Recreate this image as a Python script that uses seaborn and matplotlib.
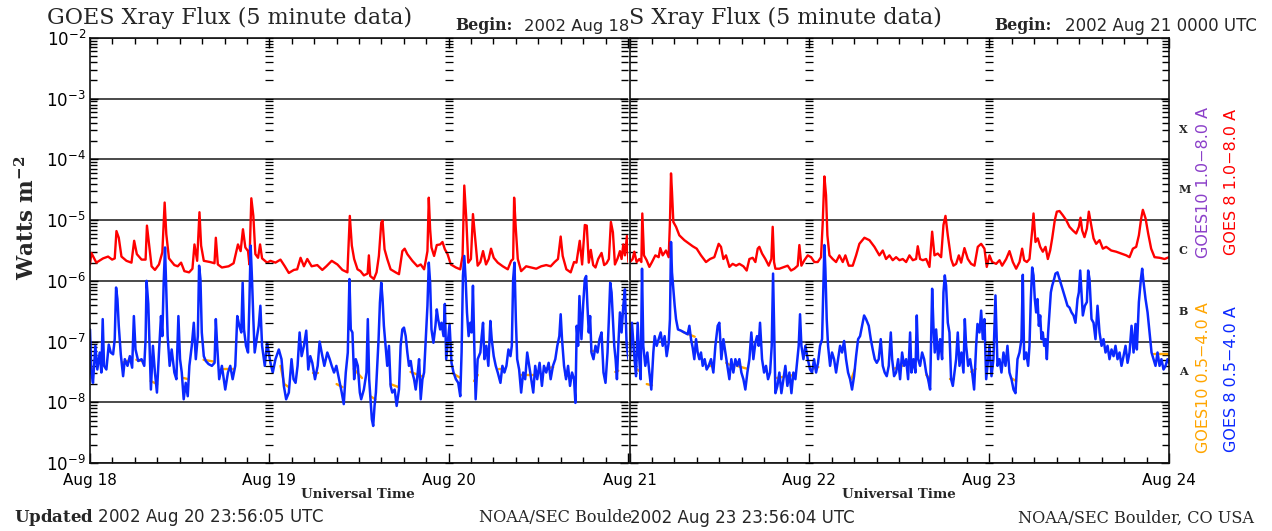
import numpy as np
import pandas as pd
import matplotlib
matplotlib.use("Agg")
import matplotlib.pyplot as plt
import seaborn as sns
from matplotlib.ticker import FixedLocator, NullFormatter, FuncFormatter, MultipleLocator

# ------------------------------------------------------------------ data
# time axis: hours since 2002 Aug 18 00:00 UTC ; flux given as log10(W m^-2)
day_ticks_hours = [0, 24, 48, 72, 96, 120, 144]
day_labels = ["Aug 18", "Aug 19", "Aug 20", "Aug 21", "Aug 22", "Aug 23", "Aug 24"]
decade_exponents = [-9, -8, -7, -6, -5, -4, -3, -2]
class_letters = ["A", "B", "C", "M", "X"]
class_log10 = [-7.5, -6.5, -5.5, -4.5, -3.5]

# GOES 8, 1.0-8.0 A  (hours, log10 flux)
goes8_long = [
    (0.0,-5.73),(0.18,-5.54),(0.85,-5.70),(1.75,-5.63),(2.42,-5.60),(2.96,-5.65),(3.31,-5.63),(3.54,-5.18),
    (3.85,-5.29),(4.21,-5.60),(4.88,-5.67),(5.55,-5.70),(5.91,-5.34),(6.27,-5.56),(6.90,-5.65),(7.44,-5.65),
    (7.62,-5.09),(7.88,-5.37),(8.24,-5.76),(8.69,-5.82),(9.23,-5.73),(9.68,-5.53),(9.99,-4.71),(10.21,-5.23),
    (10.57,-5.63),(11.29,-5.74),(11.74,-5.76),(12.19,-5.70),(12.63,-5.84),(13.26,-5.86),(13.71,-5.80),(13.98,-5.40),
    (14.34,-5.67),(14.65,-4.87),(14.87,-5.42),(15.23,-5.67),(16.08,-5.69),(16.66,-5.71),(16.84,-5.29),(17.11,-5.73),
    (17.65,-5.78),(18.55,-5.76),(19.22,-5.71),(19.80,-5.40),(20.16,-5.51),(20.47,-5.15),(20.79,-5.45),(21.15,-5.51),
    (21.33,-5.73),(21.59,-4.64),(21.86,-4.93),(22.13,-5.56),(22.49,-5.62),(22.76,-5.40),(23.03,-5.63),(23.70,-5.70),
    (24.15,-5.67),(24.82,-5.70),(25.49,-5.65),(26.07,-5.76),(26.61,-5.87),(27.28,-5.82),(27.73,-5.81),(28.18,-5.62),
    (28.63,-5.76),(29.08,-5.64),(29.66,-5.76),(30.42,-5.74),(31.09,-5.82),(31.63,-5.76),(32.35,-5.67),(33.11,-5.73),
    (33.78,-5.82),(34.45,-5.86),(34.77,-4.93),(35.04,-5.42),(35.35,-5.64),(35.80,-5.81),(36.20,-5.84),(36.65,-5.91),
    (37.15,-5.88),(37.32,-5.58),(37.50,-5.92),(37.99,-5.97),(38.35,-5.86),(38.66,-5.59),(38.98,-5.04),(39.15,-5.01),
    (39.42,-5.48),(39.78,-5.64),(40.23,-5.81),(40.90,-5.86),(41.35,-5.89),(41.80,-5.51),(42.11,-5.47),(42.47,-5.56),
    (43.14,-5.67),(43.81,-5.76),(44.26,-5.73),(44.71,-5.81),(44.93,-5.67),(45.16,-5.51),(45.34,-4.63),(45.52,-5.15),
    (45.70,-5.45),(46.05,-5.59),(46.41,-5.41),(46.86,-5.40),(47.17,-5.36),(47.49,-5.48),(47.85,-5.56),(48.29,-5.73),
    (48.97,-5.78),(49.55,-5.81),(49.86,-5.59),(50.09,-4.43),(50.36,-4.98),(50.62,-5.70),(50.98,-5.64),(51.25,-4.90),
    (51.52,-5.26),(51.88,-5.75),(52.24,-5.69),(52.60,-5.51),(53.00,-5.73),(53.36,-5.64),(53.67,-5.47),(54.03,-5.62),
    (54.57,-5.70),(55.24,-5.76),(55.91,-5.81),(56.36,-5.67),(56.63,-5.64),(56.76,-4.63),(56.99,-5.15),(57.25,-5.64),
    (57.70,-5.84),(58.37,-5.76),(59.05,-5.78),(59.72,-5.80),(60.39,-5.76),(61.06,-5.74),(61.65,-5.76),(62.18,-5.69),
    (62.63,-5.64),(62.99,-5.27),(63.26,-5.59),(63.75,-5.81),(64.33,-5.86),(64.78,-5.69),(65.10,-5.70),(65.54,-5.34),
    (65.86,-5.73),(66.22,-5.08),(66.48,-5.09),(66.75,-5.70),(67.02,-5.49),(67.34,-5.74),(67.65,-5.78),(68.01,-5.64),
    (68.46,-5.54),(68.81,-5.74),(69.13,-5.71),(69.44,-5.64),(69.71,-5.03),(69.98,-5.20),(70.25,-5.73),(70.61,-5.63),
    (70.92,-5.51),(71.14,-5.64),(71.37,-5.40),(71.59,-5.58),(71.86,-5.26),(72.06,-5.69),(72.42,-5.64),(72.64,-5.52),
    (72.95,-5.69),(73.31,-5.64),(73.58,-5.69),(73.71,-4.89),(73.93,-5.58),(74.29,-5.66),(74.65,-5.77),(75.00,-5.69),
    (75.45,-5.58),(75.89,-5.61),(76.11,-5.46),(76.43,-5.58),(76.87,-5.50),(77.23,-5.61),(77.40,-5.03),(77.54,-4.23),
    (77.67,-4.53),(77.85,-5.03),(78.21,-5.11),(78.65,-5.25),(79.32,-5.33),(79.99,-5.39),(80.43,-5.43),(80.97,-5.47),
    (81.54,-5.58),(82.21,-5.69),(82.75,-5.64),(83.32,-5.61),(83.90,-5.39),(84.21,-5.44),(84.53,-5.64),(84.88,-5.58),
    (85.33,-5.77),(85.77,-5.72),(86.22,-5.75),(86.66,-5.72),(87.20,-5.76),(87.64,-5.83),(88.00,-5.64),(88.44,-5.62),
    (88.80,-5.69),(89.11,-5.47),(89.33,-5.44),(89.69,-5.55),(90.13,-5.64),(90.58,-5.75),(90.93,-5.64),(91.11,-5.11),
    (91.29,-5.69),(91.47,-5.80),(92.00,-5.80),(92.67,-5.77),(93.11,-5.75),(93.56,-5.83),(94.00,-5.80),(94.45,-5.75),
    (94.67,-5.41),(94.94,-5.75),(95.34,-5.66),(95.79,-5.58),(96.23,-5.61),(96.67,-5.69),(97.12,-5.69),(97.56,-5.61),
    (97.79,-5.03),(98.01,-4.28),(98.23,-4.59),(98.41,-5.25),(98.68,-5.58),(99.12,-5.64),(99.57,-5.69),(100.01,-5.58),
    (100.46,-5.69),(100.81,-5.58),(101.26,-5.75),(101.79,-5.75),(102.24,-5.58),(102.68,-5.39),(103.35,-5.29),(104.02,-5.33),
    (104.69,-5.44),(105.35,-5.58),(105.80,-5.50),(106.24,-5.64),(106.69,-5.58),(107.13,-5.66),(107.58,-5.61),(108.03,-5.66),
    (108.47,-5.64),(108.92,-5.69),(109.36,-5.58),(109.81,-5.66),(110.25,-5.64),(110.47,-5.43),(110.78,-5.64),(111.14,-5.66),
    (111.59,-5.64),(112.03,-5.77),(112.39,-5.19),(112.70,-5.58),(113.14,-5.55),(113.59,-5.61),(113.90,-5.08),(114.17,-4.93),
    (114.48,-5.25),(114.92,-5.64),(115.23,-5.75),(115.59,-5.72),(115.95,-5.58),(116.26,-5.70),(116.70,-5.46),(117.15,-5.64),
    (117.59,-5.72),(118.04,-5.75),(118.48,-5.44),(118.93,-5.39),(119.37,-5.47),(119.68,-5.77),(120.04,-5.58),(120.40,-5.69),
    (120.93,-5.72),(121.38,-5.66),(121.73,-5.75),(122.27,-5.64),(122.71,-5.51),(123.16,-5.69),(123.60,-5.80),(124.05,-5.69),
    (124.40,-5.47),(124.67,-5.66),(125.03,-5.69),(125.38,-5.64),(125.74,-5.17),(125.92,-4.89),(126.18,-5.36),(126.49,-5.30),
    (126.81,-5.44),(127.16,-5.52),(127.52,-5.44),(127.83,-5.64),(128.14,-5.50),(128.41,-5.30),(128.76,-5.00),(129.03,-4.86),
    (129.39,-4.85),(129.83,-4.92),(130.28,-5.00),(130.72,-5.11),(131.17,-5.17),(131.61,-5.22),(131.97,-5.11),(132.19,-4.96),
    (132.41,-5.17),(132.72,-5.28),(133.04,-5.14),(133.30,-4.86),(133.61,-5.08),(133.93,-5.30),(134.28,-5.39),(134.73,-5.33),
    (135.17,-5.47),(135.62,-5.44),(136.29,-5.50),(136.95,-5.52),(137.62,-5.55),(138.29,-5.58),(138.73,-5.61),(139.18,-5.47),
    (139.62,-5.44),(139.98,-5.25),(140.29,-4.97),(140.51,-4.83),(140.87,-4.97),(141.22,-5.22),(141.62,-5.47),(142.07,-5.61),
    (142.74,-5.62),(143.41,-5.64),(144.0,-5.61),
]

# GOES 8, 0.5-4.0 A  (hours, log10 flux)
goes8_short = [
    (0.0,-6.80),(0.18,-7.51),(0.40,-7.68),(0.72,-7.07),(0.98,-7.46),(1.30,-7.18),(1.52,-7.51),(1.70,-6.63),
    (1.88,-7.40),(2.19,-7.46),(2.51,-7.05),(2.78,-7.18),(3.09,-7.21),(3.31,-6.96),(3.49,-6.11),(3.67,-6.30),
    (3.85,-6.74),(4.12,-7.21),(4.43,-7.57),(4.66,-7.29),(5.02,-7.40),(5.33,-7.24),(5.64,-7.43),(5.87,-6.58),
    (6.09,-7.13),(6.45,-7.32),(6.90,-7.29),(7.26,-7.40),(7.44,-6.96),(7.57,-6.00),(7.80,-6.38),(8.02,-7.29),
    (8.15,-7.79),(8.42,-7.07),(8.69,-7.51),(8.96,-7.84),(9.23,-7.18),(9.50,-6.58),(9.68,-6.91),(9.86,-6.03),
    (10.04,-5.45),(10.21,-6.14),(10.39,-6.91),(10.66,-7.40),(10.93,-7.13),(11.29,-7.51),(11.56,-7.62),(11.83,-6.58),
    (12.05,-7.29),(12.28,-7.51),(12.54,-7.95),(12.81,-7.68),(13.08,-7.90),(13.30,-7.40),(13.62,-7.07),(13.89,-6.69),
    (14.16,-7.29),(14.43,-6.91),(14.60,-5.75),(14.78,-5.97),(14.96,-6.85),(15.23,-7.24),(15.50,-7.32),(15.86,-7.37),
    (16.31,-7.40),(16.67,-7.35),(16.84,-6.63),(17.02,-7.07),(17.29,-7.62),(17.65,-7.40),(18.10,-7.79),(18.46,-7.51),
    (18.77,-7.40),(19.09,-7.62),(19.44,-7.40),(19.71,-6.58),(19.98,-6.74),(20.25,-6.85),(20.43,-6.03),(20.61,-6.80),
    (20.88,-7.07),(21.15,-7.18),(21.33,-6.36),(21.50,-5.42),(21.68,-5.97),(21.86,-6.63),(22.04,-7.18),(22.36,-6.91),
    (22.58,-6.74),(22.80,-6.41),(23.03,-7.07),(23.39,-7.40),(23.70,-7.02),(24.15,-7.35),(24.46,-7.51),(24.82,-7.29),
    (25.27,-7.13),(25.63,-7.29),(25.94,-7.73),(26.25,-7.95),(26.61,-7.84),(26.97,-7.29),(27.24,-7.62),(27.51,-7.68),
    (27.78,-7.40),(28.05,-6.85),(28.32,-7.24),(28.63,-7.07),(28.94,-6.82),(29.21,-7.46),(29.48,-7.24),(29.75,-7.35),
    (30.11,-7.62),(30.47,-7.40),(30.73,-7.00),(31.00,-7.18),(31.36,-7.40),(31.76,-7.18),(32.08,-7.29),(32.35,-7.40),
    (32.66,-7.51),(32.97,-7.40),(33.33,-7.62),(33.69,-7.84),(33.96,-8.03),(34.23,-7.51),(34.50,-7.18),(34.72,-5.97),
    (34.90,-6.80),(35.12,-6.85),(35.35,-7.62),(35.57,-7.29),(35.84,-7.40),(36.11,-7.84),(36.29,-7.95),(36.65,-7.79),
    (37.00,-7.51),(37.18,-6.63),(37.36,-7.62),(37.54,-7.95),(37.72,-8.28),(37.90,-8.39),(38.08,-8.06),(38.26,-7.84),
    (38.44,-7.40),(38.62,-6.96),(38.80,-6.36),(38.98,-6.03),(39.15,-6.30),(39.33,-6.74),(39.56,-7.07),(39.78,-7.40),
    (40.01,-7.07),(40.23,-7.73),(40.45,-7.84),(40.77,-7.79),(41.04,-8.06),(41.35,-7.79),(41.57,-7.07),(41.80,-6.80),
    (42.02,-6.77),(42.25,-6.91),(42.47,-7.18),(42.69,-7.40),(42.92,-7.32),(43.14,-7.51),(43.37,-7.62),(43.59,-7.79),
    (43.81,-7.57),(44.04,-7.29),(44.26,-7.95),(44.49,-7.62),(44.71,-7.51),(44.93,-6.96),(45.16,-6.41),(45.34,-5.70),
    (45.52,-6.03),(45.70,-6.80),(45.96,-7.02),(46.23,-6.74),(46.41,-6.47),(46.59,-6.63),(46.86,-6.80),(47.04,-6.69),
    (47.31,-6.91),(47.49,-6.38),(47.67,-7.29),(48.12,-6.71),(48.38,-7.35),(48.65,-7.51),(48.97,-7.62),(49.28,-7.68),
    (49.55,-7.90),(49.73,-7.18),(49.91,-5.92),(50.09,-5.59),(50.27,-5.97),(50.45,-6.52),(50.67,-6.91),(50.89,-6.69),
    (51.07,-6.85),(51.25,-6.08),(51.43,-7.07),(51.61,-7.95),(51.88,-7.29),(52.24,-7.18),(52.42,-6.91),(52.60,-6.69),
    (52.78,-7.29),(53.04,-7.07),(53.31,-7.40),(53.58,-6.66),(53.76,-6.96),(54.03,-7.24),(54.30,-7.40),(54.57,-7.51),
    (54.93,-7.68),(55.19,-7.40),(55.46,-7.51),(55.73,-7.40),(56.00,-7.13),(56.27,-7.24),(56.45,-7.07),(56.63,-5.97),
    (56.81,-5.70),(56.99,-6.63),(57.17,-7.29),(57.43,-7.46),(57.70,-7.84),(57.97,-7.51),(58.24,-7.62),(58.51,-7.18),
    (58.78,-7.40),(59.05,-7.62),(59.32,-7.84),(59.58,-7.40),(59.85,-7.62),(60.17,-7.35),(60.48,-7.73),(60.75,-7.40),
    (61.06,-7.51),(61.38,-7.35),(61.65,-7.62),(61.96,-7.40),(62.27,-7.29),(62.54,-7.07),(62.81,-6.91),(62.99,-6.55),
    (63.17,-6.96),(63.44,-7.40),(63.71,-7.62),(63.98,-7.40),(64.24,-7.73),(64.51,-7.51),(64.78,-7.62),(64.96,-8.01),
    (65.14,-6.74),(65.32,-7.07),(65.50,-6.25),(65.77,-6.96),(65.99,-6.41),(66.22,-5.97),(66.40,-5.92),(66.57,-6.41),
    (66.75,-6.85),(66.93,-6.58),(67.11,-7.18),(67.38,-7.29),(67.65,-7.07),(67.92,-7.18),(68.19,-6.96),(68.46,-6.85),
    (68.72,-7.51),(68.99,-7.68),(69.26,-7.18),(69.44,-6.63),(69.62,-6.03),(69.80,-6.19),(69.98,-6.63),(70.16,-7.07),
    (70.34,-7.29),(70.52,-7.62),(70.70,-7.07),(70.92,-6.52),(71.14,-6.85),(71.37,-6.41),(71.59,-6.14),(71.82,-7.07),
    (72.06,-7.29),(72.33,-6.69),(72.60,-7.18),(72.87,-7.57),(73.09,-6.69),(73.31,-7.29),(73.49,-7.62),(73.67,-5.80),
    (73.84,-7.07),(74.11,-7.40),(74.38,-7.18),(74.65,-7.51),(74.91,-7.79),(75.18,-7.18),(75.36,-6.91),(75.63,-7.07),
    (75.89,-6.96),(76.16,-6.85),(76.43,-7.07),(76.69,-6.91),(76.96,-7.24),(77.23,-7.02),(77.40,-6.63),(77.54,-5.36),
    (77.67,-5.86),(77.85,-6.13),(78.03,-6.41),(78.21,-6.63),(78.47,-6.80),(78.87,-6.82),(79.32,-6.85),(79.76,-6.88),
    (79.99,-6.74),(80.21,-6.96),(80.43,-7.10),(80.65,-7.29),(80.88,-6.96),(81.10,-7.18),(81.32,-7.29),(81.54,-7.18),
    (81.77,-7.40),(82.03,-7.29),(82.30,-7.46),(82.57,-7.40),(82.88,-7.29),(83.19,-7.51),(83.46,-7.07),(83.77,-6.74),
    (83.99,-6.69),(84.26,-7.29),(84.53,-6.96),(84.79,-7.18),(85.06,-7.40),(85.33,-7.62),(85.59,-7.29),(85.86,-7.51),
    (86.13,-7.29),(86.39,-7.40),(86.66,-7.29),(86.93,-7.51),(87.20,-7.62),(87.46,-7.79),(87.73,-7.51),(88.00,-7.29),
    (88.26,-6.85),(88.53,-7.29),(88.80,-7.02),(89.02,-6.91),(89.24,-7.07),(89.42,-6.69),(89.69,-7.29),(89.96,-7.51),
    (90.22,-7.40),(90.49,-7.62),(90.76,-7.51),(90.98,-7.07),(91.16,-5.88),(91.29,-6.74),(91.47,-7.85),(91.74,-7.73),
    (92.00,-7.51),(92.27,-7.85),(92.54,-7.62),(92.80,-7.40),(93.07,-7.73),(93.34,-7.51),(93.61,-7.85),(93.87,-7.51),
    (94.14,-7.62),(94.41,-7.29),(94.58,-7.07),(94.76,-6.55),(94.94,-7.07),(95.21,-7.29),(95.47,-7.07),(95.79,-7.29),
    (96.10,-7.46),(96.36,-7.51),(96.63,-7.29),(96.90,-7.51),(97.16,-7.35),(97.43,-7.07),(97.70,-6.96),(97.88,-6.02),
    (98.01,-5.41),(98.14,-5.80),(98.32,-6.63),(98.50,-7.07),(98.77,-7.40),(99.03,-7.18),(99.30,-7.29),(99.57,-7.51),
    (99.83,-7.29),(100.10,-7.07),(100.37,-7.18),(100.64,-6.99),(100.90,-7.29),(101.17,-7.51),(101.44,-7.62),(101.70,-7.79),
    (101.97,-7.57),(102.24,-7.24),(102.51,-6.96),(102.77,-6.91),(103.04,-6.74),(103.31,-6.57),(103.57,-6.63),(103.93,-6.74),
    (104.20,-6.96),(104.46,-7.13),(104.73,-7.29),(105.00,-7.35),(105.26,-7.29),(105.53,-6.96),(105.80,-7.40),(106.06,-7.51),
    (106.33,-7.57),(106.60,-7.40),(106.87,-6.85),(107.05,-7.29),(107.31,-7.57),(107.58,-7.51),(107.85,-7.29),(108.11,-7.62),
    (108.38,-7.18),(108.65,-7.40),(108.92,-7.29),(109.18,-7.62),(109.45,-6.85),(109.63,-7.51),(109.89,-7.29),(110.16,-7.51),
    (110.34,-6.57),(110.52,-7.29),(110.78,-7.40),(111.05,-7.18),(111.32,-7.29),(111.59,-7.51),(111.85,-7.62),(112.12,-7.79),
    (112.39,-6.13),(112.56,-6.74),(112.74,-7.18),(112.92,-6.80),(113.19,-7.29),(113.45,-6.96),(113.72,-7.29),(113.90,-6.19),
    (114.08,-5.91),(114.25,-6.08),(114.48,-6.69),(114.70,-6.85),(114.92,-7.62),(115.15,-7.73),(115.37,-7.51),(115.59,-7.29),
    (115.81,-6.85),(116.04,-7.40),(116.30,-7.18),(116.57,-7.51),(116.75,-6.63),(116.93,-7.07),(117.19,-7.40),(117.46,-7.29),
    (117.73,-7.51),(117.99,-7.79),(118.26,-7.07),(118.44,-6.71),(118.71,-6.85),(118.93,-6.49),(119.15,-6.96),(119.37,-6.63),
    (119.60,-7.62),(120.04,-7.07),(120.31,-7.57),(120.57,-7.29),(120.84,-6.24),(121.11,-7.40),(121.38,-7.29),(121.64,-7.51),
    (121.91,-7.18),(122.18,-7.40),(122.44,-7.07),(122.71,-7.51),(122.98,-7.62),(123.25,-7.79),(123.51,-7.85),(123.78,-7.29),
    (124.05,-7.18),(124.31,-6.96),(124.49,-5.90),(124.67,-7.29),(124.94,-7.18),(125.20,-7.40),(125.38,-7.07),(125.56,-6.30),
    (125.74,-5.78),(125.92,-5.91),(126.09,-6.30),(126.27,-6.52),(126.45,-6.30),(126.63,-6.74),(126.81,-6.57),(126.98,-6.96),
    (127.16,-6.85),(127.34,-7.07),(127.52,-6.96),(127.70,-7.29),(127.87,-6.85),(128.05,-6.52),(128.23,-6.19),(128.41,-6.08),
    (128.67,-5.97),(128.85,-5.88),(129.12,-5.86),(129.39,-5.97),(129.65,-6.08),(129.92,-6.19),(130.19,-6.30),(130.45,-6.41),
    (130.72,-6.44),(130.99,-6.52),(131.26,-6.57),(131.52,-6.69),(131.79,-6.30),(131.97,-6.19),(132.15,-5.83),(132.32,-6.19),
    (132.50,-6.57),(132.77,-6.41),(133.04,-6.35),(133.21,-5.83),(133.39,-5.97),(133.66,-6.63),(133.93,-6.69),(134.19,-6.96),
    (134.46,-6.41),(134.73,-6.85),(135.00,-7.07),(135.26,-6.96),(135.53,-7.18),(135.80,-7.07),(136.06,-7.29),(136.33,-7.13),
    (136.60,-7.24),(136.86,-7.07),(137.13,-7.29),(137.40,-7.18),(137.66,-7.40),(137.93,-7.24),(138.20,-7.07),(138.47,-7.35),
    (138.73,-7.18),(139.00,-6.74),(139.27,-7.18),(139.53,-6.71),(139.71,-7.13),(139.98,-6.35),(140.25,-5.97),(140.42,-5.80),
    (140.60,-6.02),(140.87,-6.30),(141.14,-6.52),(141.40,-6.85),(141.67,-7.18),(141.94,-7.29),(142.20,-7.40),(142.47,-7.18),
    (142.74,-7.40),(142.99,-7.29),(143.27,-7.46),(143.54,-7.40),(143.80,-7.29),(144.0,-7.35),
]

# GOES 10, 0.5-4.0 A : only the stretches where it shows above GOES 8 (segment, hours, log10 flux)
goes10_short = [
    (0,0.0,-7.40),(0,0.4,-7.45),(1,4.3,-7.35),(1,5.5,-7.30),(2,6.2,-7.30),(2,7.0,-7.32),(3,8.1,-7.65),(3,9.0,-7.70),
    (4,12.5,-7.60),(4,13.2,-7.62),(5,15.2,-7.30),(5,16.6,-7.33),(6,17.9,-7.45),(6,19.3,-7.45),
    (7,25.5,-7.40),(7,26.0,-7.70),(7,26.6,-7.75),(8,29.8,-7.52),(8,30.5,-7.52),(9,33.0,-7.70),(9,33.8,-7.75),
    (10,35.3,-7.45),(10,36.4,-7.60),(11,37.5,-7.90),(11,38.2,-7.95),(12,40.2,-7.70),(12,41.3,-7.75),
    (13,42.9,-7.50),(13,44.6,-7.58),(14,48.5,-7.52),(14,49.6,-7.60),(15,51.4,-7.65),(15,51.9,-7.55),
    (16,54.8,-7.45),(16,55.5,-7.45),(17,57.7,-7.55),(17,59.8,-7.55),(18,60.8,-7.45),(18,62.0,-7.42),
    (19,63.6,-7.55),(19,64.8,-7.60),(20,67.1,-7.15),(20,68.0,-7.15),(21,70.3,-7.50),(21,70.7,-7.48),
    (22,72.9,-7.45),(22,73.5,-7.50),(23,74.3,-7.70),(23,75.0,-7.72),(24,79.1,-6.84),(24,80.7,-6.92),
    (25,82.2,-7.40),(25,83.1,-7.40),(26,84.9,-7.35),(26,85.3,-7.38),(27,86.3,-7.40),(27,87.8,-7.45),
    (28,91.6,-7.60),(28,94.0,-7.55),(29,96.4,-7.45),(29,97.2,-7.42),(30,101.6,-7.62),(30,102.1,-7.45),
    (31,107.2,-7.45),(31,108.4,-7.40),(32,111.6,-7.55),(32,112.0,-7.60),(33,114.8,-7.62),(33,115.3,-7.62),
    (34,117.6,-7.50),(34,118.2,-7.45),(35,122.9,-7.60),(35,123.6,-7.65),(36,142.0,-7.20),(36,144.0,-7.20),
]

legend_texts = ["GOES10 1.0\u22128.0 A", "GOES 8 1.0\u22128.0 A", "GOES10 0.5\u22124.0 A", "GOES 8 0.5\u22124.0 A"]
legend_colors = ["#8b3fc9", "#ff0000", "#ffa500", "#0a28ff"]

# ------------------------------------------------------------------ frames
def to_frame(pairs):
    a = np.array(pairs, dtype=float)
    return pd.DataFrame({"hours": a[:, 0], "flux": 10.0 ** a[:, 1]})

df_long = to_frame(goes8_long)
df_short = to_frame(goes8_short)
a10 = np.array(goes10_short, dtype=float)
df_g10s = pd.DataFrame({"seg": a10[:, 0].astype(int), "hours": a10[:, 1], "flux": 10.0 ** a10[:, 2]})

# tick positions restricted to the visible decades
major_y = [10.0 ** e for e in decade_exponents]
minor_y = [m * 10.0 ** e for e in decade_exponents[:-1] for m in range(2, 10)]

# ------------------------------------------------------------------ figure
sns.set_style("white")
plt.rcParams["font.family"] = ["DejaVu Sans"]
plt.rcParams["mathtext.fontset"] = "dejavuserif"

W, H = 1272, 531
OFFSET = 539    # horizontal shift of the second frame

fig = plt.figure(figsize=(W / 100, H / 100), dpi=100)
fig.patch.set_facecolor("white")

def fx(x):
    return x / W

def fy(y):
    return 1 - y / H

axL = fig.add_axes([fx(90), fy(463), (628 - 90) / W, (463 - 38) / H])
axR = fig.add_axes([fx(629.5), fy(463), (1169 - 629.5) / W, (463 - 38) / H])

for ax in (axL, axR):
    sns.lineplot(data=df_long, x="hours", y="flux", ax=ax, color="#ff0000", lw=1.7,
                 estimator=None, sort=False, legend=False)
    sns.lineplot(data=df_g10s, x="hours", y="flux", units="seg", ax=ax, color="#ffa500",
                 lw=1.7, estimator=None, legend=False)
    sns.lineplot(data=df_short, x="hours", y="flux", ax=ax, color="#0a28ff", lw=1.8,
                 estimator=None, sort=False, legend=False)


def pow_fmt(v, pos):
    e = int(round(np.log10(v)))
    return r"$\mathregular{10^{%d}}$" % e


def style(ax, xlo, xhi, ylabels, keep_right_spine, labelled_days):
    ax.set_yscale("log")
    ax.set_ylim(1e-9, 1e-2)
    ax.set_xlim(xlo, xhi)
    ax.set_xlabel("")
    ax.set_ylabel("")
    ax.set_axisbelow(True)
    ax.xaxis.set_major_locator(FixedLocator([h for h in day_ticks_hours if xlo <= h <= xhi]))
    ax.xaxis.set_minor_locator(MultipleLocator(3))
    ax.xaxis.set_major_formatter(FuncFormatter(
        lambda v, p: day_labels[day_ticks_hours.index(int(round(v)))] if int(round(v)) in labelled_days else ""))
    ax.yaxis.set_major_locator(FixedLocator(major_y))
    ax.yaxis.set_minor_locator(FixedLocator(minor_y))
    ax.yaxis.set_minor_formatter(NullFormatter())
    ax.yaxis.set_major_formatter(FuncFormatter(pow_fmt))
    ax.tick_params(axis="y", which="both", direction="in", left=True, right=True,
                   labelleft=ylabels, labelright=False, width=1, color="black")
    ax.tick_params(axis="y", which="major", length=6, labelsize=12, pad=3, labelcolor="black")
    ax.tick_params(axis="y", which="minor", length=5)
    ax.tick_params(axis="x", which="both", direction="in", top=True, bottom=True, width=1, color="black")
    ax.tick_params(axis="x", which="major", length=7, labelsize=11, pad=7, labelcolor="black")
    ax.tick_params(axis="x", which="minor", length=4)
    ax.grid(False)
    ax.yaxis.grid(True, which="major", color="#2a2a2a", lw=1.2)
    for sp in ax.spines.values():
        sp.set_color("#111111")
        sp.set_linewidth(1.2)
    ax.spines["right"].set_visible(keep_right_spine)
    # day-boundary tick columns
    for loc in (1 / 3, 2 / 3):
        ia = ax.inset_axes([loc, 0, 1e-5, 1], sharey=ax)
        ia.patch.set_visible(False)
        for sp in ia.spines.values():
            sp.set_visible(False)
        ia.tick_params(axis="y", which="both", direction="inout", left=True, right=False,
                       labelleft=False, labelright=False, length=5.5, width=0.9, color="black")
        ia.tick_params(axis="x", which="both", bottom=False, top=False, labelbottom=False)


style(axL, 0, 72, True, False, [0, 24, 48])
style(axR, 72, 144, False, True, [72, 96, 120, 144])

# ------------------------------------------------------------------ header / footer of the two frames
def frame_text(x, y, s, side, **kw):
    xx = x + (OFFSET if side == "R" else 0)
    return fig.text(fx(xx), fy(y), s, **kw)

serif = "DejaVu Serif"
FOOT_Y = 518
# left frame (its right part is covered by the second frame)
frame_text(47, 18, "GOES Xray Flux (5 minute data)", "L", family=serif, fontsize=16, va="center", ha="left")
frame_text(455, 26, "Begin:", "L", family=serif, weight="bold", fontsize=11.3, va="center", ha="left")
frame_text(524, 26, "2002 Aug 18", "L", family="DejaVu Sans", fontsize=11.8, va="center", ha="left")
frame_text(14, FOOT_Y, r"$\mathbf{Updated}$ 2002 Aug 20 23:56:05 UTC", "L", family="DejaVu Sans",
           fontsize=12, va="center", ha="left")
frame_text(479, FOOT_Y, "NOAA/SEC Boulde", "L", family=serif, fontsize=11.6, va="center", ha="left")
frame_text(358, 494, "Universal Time", "L", family=serif, weight="bold", fontsize=9.6, va="center", ha="center")
frame_text(27, 218, r"Watts m$^{\mathregular{-2}}$", "L", family=serif, weight="bold",
           fontsize=15.5, rotation=90, va="center", ha="center")
# right frame (starts at the seam)
fig.text(fx(629), fy(18), "S Xray Flux (5 minute data)", family=serif, fontsize=16, va="center", ha="left")
frame_text(455, 26, "Begin:", "R", family=serif, weight="bold", fontsize=11.3, va="center", ha="left")
frame_text(526, 26, "2002 Aug 21 0000 UTC", "R", family="DejaVu Sans", fontsize=12, va="center", ha="left")
fig.text(fx(630), fy(FOOT_Y), "2002 Aug 23 23:56:04 UTC", family="DejaVu Sans", fontsize=12, va="center", ha="left")
frame_text(479, FOOT_Y, "NOAA/SEC Boulder, CO USA", "R", family=serif, fontsize=11.6, va="center", ha="left")
frame_text(360, 494, "Universal Time", "R", family=serif, weight="bold", fontsize=9.6, va="center", ha="center")

# flare class letters on the right edge
for letter, lv in zip(class_letters, class_log10):
    axR.annotate(letter, xy=(1, 10 ** lv), xycoords=("axes fraction", "data"),
                 xytext=(7, 0), textcoords="offset points", ha="left", va="center",
                 family=serif, weight="bold", fontsize=8)

# vertical legend
leg_pos = [(1204, 182), (1232, 182), (1204, 378), (1232, 379)]
for (x, y), s, c in zip(leg_pos, legend_texts, legend_colors):
    fig.text(fx(x), fy(y), s, color=c, rotation=90, ha="center", va="center",
             family="DejaVu Sans", fontsize=11.5)

fig.savefig("out.png", dpi=100, facecolor="white")
